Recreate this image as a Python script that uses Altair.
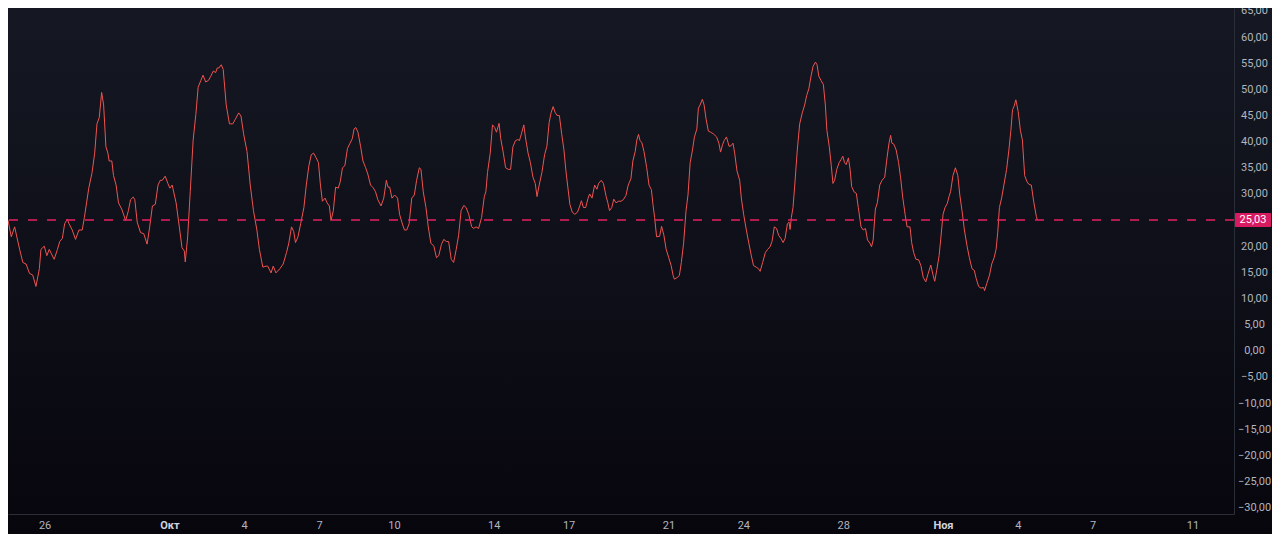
import json
import altair as alt
import pandas as pd

# Time of each reading, in hours after 2024-09-24 00:00 UTC
hours = [
    12.8, 16.0, 19.2, 24.0, 27.1, 30.2, 33.5, 36.6, 39.7, 43.0,
    44.5, 47.7, 50.2, 52.5, 57.2, 60.4, 62.6, 65.1, 67.3, 69.9,
    71.5, 74.6, 77.8, 81.0, 84.2, 86.3, 90.5, 93.7, 96.2, 98.4,
    100.6, 102.9, 104.8, 107.0, 108.9, 110.1, 112.7, 114.3, 116.8, 119.1,
    122.2, 126.0, 128.6, 130.7, 133.3, 134.8, 137.1, 140.3, 143.4, 146.6,
    149.1, 151.7, 154.5, 157.1, 159.3, 161.2, 164.0, 166.6, 168.5, 170.7,
    174.5, 177.6, 180.2, 182.4, 183.3, 185.6, 188.1, 190.9, 193.5, 195.7,
    198.3, 200.4, 203.0, 205.6, 207.8, 210.3, 212.5, 214.1, 215.8, 217.9,
    219.8, 222.7, 225.8, 229.0, 231.5, 234.7, 236.9, 239.4, 242.7, 245.8,
    248.9, 252.2, 254.6, 257.9, 261.0, 262.6, 265.8, 267.9, 270.5, 274.3,
    277.5, 280.7, 282.9, 285.5, 287.6, 289.3, 291.7, 294.3, 297.4, 299.7,
    302.2, 304.5, 306.7, 309.2, 311.4, 313.3, 315.2, 317.8, 319.7, 321.9,
    323.5, 325.7, 327.9, 330.4, 332.3, 334.5, 336.8, 339.3, 341.8, 344.0,
    345.6, 347.3, 349.4, 352.0, 354.2, 356.8, 358.9, 361.5, 364.0, 366.3,
    368.5, 371.6, 374.2, 376.7, 378.3, 379.9, 382.1, 384.6, 387.5, 389.4,
    391.6, 394.1, 396.3, 398.6, 401.1, 403.6, 405.8, 408.4, 410.0, 412.2,
    414.8, 417.0, 419.5, 422.4, 424.9, 427.1, 429.6, 431.9, 434.4, 436.6,
    439.1, 441.4, 443.9, 446.2, 448.6, 451.2, 453.4, 455.9, 458.8, 460.7,
    462.9, 465.4, 468.3, 470.9, 472.4, 474.0, 476.6, 478.8, 480.9, 482.6,
    485.1, 486.7, 489.2, 491.4, 494.0, 496.2, 498.4, 500.9, 503.2, 504.7,
    506.6, 508.9, 510.4, 513.0, 515.2, 517.7, 519.9, 521.6, 523.7, 526.3,
    528.9, 531.1, 533.3, 535.1, 537.1, 539.0, 540.9, 543.1, 545.3, 547.5,
    549.4, 551.0, 553.2, 555.5, 558.0, 560.5, 562.7, 564.3, 566.2, 568.4,
    570.7, 572.2, 574.5, 577.0, 579.2, 580.8, 583.4, 585.5, 588.1, 589.7,
    591.3, 593.5, 595.4, 597.6, 599.8, 602.4, 604.6, 607.1, 609.3, 611.9,
    613.8, 616.0, 617.6, 619.2, 620.7, 622.4, 624.5, 627.1, 629.3, 631.6,
    633.1, 634.7, 636.6, 639.5, 641.4, 643.6, 645.8, 648.3, 650.6, 652.5,
    653.7, 656.3, 658.5, 660.4, 662.6, 664.9, 666.8, 668.9, 671.1, 673.0,
    675.3, 676.8, 678.4, 680.6, 682.3, 684.2, 686.4, 688.6, 691.1, 694.3,
    696.5, 698.1, 700.0, 701.6, 703.8, 706.3, 708.2, 710.1, 711.7, 713.9,
    716.5, 718.1, 720.3, 722.9, 725.3, 727.6, 729.8, 732.4, 734.6, 736.2,
    738.6, 741.2, 743.4, 745.7, 747.6, 749.8, 752.0, 753.9, 756.1, 758.3,
    760.2, 762.4, 764.0, 765.0, 766.2, 767.8, 769.7, 771.9, 774.2, 776.7,
    779.0, 780.9, 783.0, 785.2, 787.1, 789.4, 790.9, 792.6, 794.7, 797.0,
    798.9, 800.4, 802.7, 804.6, 806.2, 807.8, 809.9, 812.2, 814.1, 815.7,
    817.3, 818.9, 821.1, 822.7, 824.2, 826.5, 828.7, 830.6, 833.2, 835.3,
    837.5, 839.4, 841.7, 843.3, 844.9, 847.0, 848.9, 851.2, 853.4, 856.0,
    858.2, 860.1, 861.7, 862.9, 864.8, 867.0, 869.3, 871.2, 873.4, 875.6,
    877.5, 880.3, 881.9, 883.8, 886.0, 888.6, 890.8, 893.1, 895.5, 897.8,
    900.3, 902.6, 904.1, 906.0, 908.3, 909.8, 912.1, 914.0, 916.2, 917.8,
    919.3, 921.6, 924.0, 926.3, 928.2, 930.4, 932.6, 935.2, 937.4, 939.9,
    942.1, 944.0, 946.3, 948.5, 951.1, 952.0, 954.2, 956.8, 958.9, 961.2,
    963.1, 964.7, 966.3, 968.4, 970.6, 973.2, 975.4, 977.3, 978.9, 980.5,
    982.1, 984.3, 986.5, 988.4, 990.6, 992.9, 994.8, 997.0, 999.2, 1001.8, 1002.7,
]

values = [
    25.0, 21.8, 23.7, 19.4, 16.9, 16.6, 14.8, 14.5, 12.3, 15.7,
    19.4, 20.0, 18.2, 19.4, 17.5, 19.4, 20.9, 21.5, 24.3, 25.2,
    24.3, 23.1, 21.3, 23.1, 23.1, 25.5, 31.1, 34.1, 37.8, 43.4,
    44.6, 49.4, 47.0, 39.0, 37.8, 36.3, 36.3, 33.5, 31.7, 28.3,
    27.1, 24.9, 26.8, 28.9, 29.4, 28.9, 24.6, 22.6, 22.4, 20.4,
    23.7, 27.7, 28.0, 31.7, 32.6, 32.6, 33.4, 32.0, 31.1, 31.7,
    28.3, 23.7, 19.7, 19.1, 17.0, 21.8, 30.4, 40.3, 45.2, 50.4,
    51.7, 52.7, 51.4, 51.7, 52.5, 53.5, 53.2, 54.1, 54.1, 54.7,
    53.8, 47.0, 43.4, 43.4, 44.3, 45.5, 44.9, 41.5, 38.1, 31.7,
    26.8, 23.1, 19.4, 16.0, 16.2, 16.2, 14.9, 16.2, 14.9, 15.7,
    16.6, 18.8, 20.6, 23.7, 22.8, 20.7, 21.8, 24.3, 27.4, 31.7,
    35.4, 37.5, 37.8, 36.9, 36.0, 31.7, 28.6, 29.2, 28.3, 27.7,
    24.9, 26.8, 31.3, 31.1, 32.3, 35.0, 35.4, 38.7, 39.7, 40.6,
    42.4, 42.7, 41.8, 39.0, 36.3, 35.0, 33.8, 31.7, 31.2, 30.4,
    28.9, 27.7, 29.2, 32.6, 31.3, 31.3, 29.2, 29.8, 29.2, 26.1,
    24.6, 23.1, 23.1, 24.3, 29.2, 29.8, 32.6, 35.0, 34.7, 30.4,
    27.4, 23.7, 20.6, 20.0, 17.8, 18.2, 20.3, 21.3, 20.9, 20.9,
    17.5, 16.9, 19.4, 22.1, 26.8, 27.8, 27.4, 26.1, 23.7, 23.4,
    23.7, 23.4, 25.5, 29.5, 30.4, 34.1, 37.8, 43.2, 42.7, 41.8,
    43.5, 40.6, 37.8, 35.0, 34.7, 34.7, 39.0, 40.2, 40.4, 40.2,
    41.5, 43.2, 40.9, 37.8, 36.0, 33.2, 32.0, 29.5, 31.7, 34.1,
    37.5, 39.1, 43.7, 45.5, 46.7, 45.6, 45.0, 45.0, 41.5, 38.4,
    34.4, 31.7, 28.0, 26.5, 26.1, 26.5, 27.7, 28.7, 27.4, 27.4,
    29.2, 30.0, 29.2, 31.7, 30.9, 32.0, 32.6, 32.0, 29.5, 28.3,
    26.8, 27.4, 29.0, 28.3, 28.6, 28.6, 28.9, 29.7, 31.7, 32.9,
    36.3, 38.1, 40.3, 41.4, 40.2, 39.8, 38.1, 35.0, 31.7, 30.8,
    28.0, 25.5, 21.8, 21.9, 23.8, 22.1, 19.4, 17.8, 16.3, 14.4,
    13.7, 14.0, 14.4, 16.9, 20.6, 26.8, 29.8, 36.0, 38.4, 40.9,
    42.4, 46.4, 47.0, 48.1, 47.0, 44.3, 42.0, 41.8, 41.5, 40.9,
    39.7, 38.0, 39.4, 40.2, 40.9, 39.1, 39.2, 39.7, 37.8, 34.4,
    32.6, 29.2, 26.1, 23.1, 20.6, 18.3, 16.3, 16.0, 15.7, 15.2,
    16.9, 18.8, 19.4, 19.9, 20.9, 23.7, 23.4, 22.1, 21.5, 20.7,
    21.5, 24.3, 24.6, 23.2, 25.5, 27.4, 32.3, 38.4, 43.4, 45.5,
    47.0, 48.8, 50.1, 52.6, 54.4, 55.2, 54.7, 52.5, 51.7, 50.9,
    47.0, 42.1, 39.0, 35.4, 32.0, 32.6, 34.7, 36.0, 36.6, 37.2,
    36.0, 35.6, 36.9, 34.7, 31.4, 30.4, 30.1, 27.4, 23.7, 23.1,
    23.4, 21.2, 20.6, 19.9, 21.2, 27.1, 28.3, 31.7, 32.6, 33.2,
    36.9, 39.7, 41.2, 39.7, 39.5, 38.4, 36.0, 33.2, 29.2, 26.1,
    23.7, 23.7, 20.7, 18.8, 17.5, 17.4, 16.3, 14.0, 13.2, 14.8,
    16.4, 14.4, 13.3, 15.4, 18.2, 21.2, 26.1, 27.4, 28.2, 29.5,
    30.4, 33.5, 35.0, 33.5, 29.8, 26.7, 23.1, 20.0, 17.8, 15.7,
    15.4, 13.8, 12.3, 12.0, 12.1, 11.5, 12.9, 14.5, 16.6, 17.8,
    19.4, 22.7, 27.4, 29.2, 31.7, 34.7, 38.4, 42.1, 46.1, 46.8,
    48.0, 45.8, 42.1, 40.3, 33.5, 32.3, 31.8, 31.7, 28.6, 25.7, 25.03,
]

level = [25.03]

# x-axis tick dates (year, month, day)
tick_dates = [
    (2024, 9, 26), (2024, 10, 1), (2024, 10, 4), (2024, 10, 7), (2024, 10, 10),
    (2024, 10, 14), (2024, 10, 17), (2024, 10, 21), (2024, 10, 24), (2024, 10, 28),
    (2024, 11, 1), (2024, 11, 4), (2024, 11, 7), (2024, 11, 11),
]
month_names = ["Янв", "Фев", "Мар", "Апр", "Май", "Июн",
               "Июл", "Авг", "Сен", "Окт", "Ноя", "Дек"]
# price-scale ticks; the one under the level badge is hidden by it
y_ticks = [v for v in range(-30, 70, 5) if abs(v - level[0]) > 3]

start = pd.Timestamp("2024-09-24 00:00:00")
times = start + pd.to_timedelta(hours, unit="h")
df = pd.DataFrame({
    "t": [ts.strftime("%Y-%m-%dT%H:%M:%SZ") for ts in times],
    "v": values,
})
level_df = pd.DataFrame({"level": level})

W, H = 1226, 506
FONT = "Roboto"
LABEL_COLOR = "#b2b5be"
AXIS_LINE = "#2a2e39"

x_scale = alt.Scale(
    type="utc",
    domain=[
        alt.DateTime(year=2024, month=9, date=24, hours=12, minutes=50, utc=True),
        alt.DateTime(year=2024, month=11, date=12, hours=15, minutes=54, utc=True),
    ],
)
y_scale = alt.Scale(domain=[-31.2, 65.55], nice=False, zero=False)

month_js = json.dumps(month_names, ensure_ascii=False)
x_axis = alt.Axis(
    values=[alt.DateTime(year=y, month=m, date=d, utc=True) for (y, m, d) in tick_dates],
    labelExpr=f"utcdate(datum.value) == 1 ? {month_js}[utcmonth(datum.value)] : '' + utcdate(datum.value)",
    labelFontWeight={"condition": {"test": "utcdate(datum.value) == 1", "value": "bold"}, "value": "normal"},
    labelColor={"condition": {"test": "utcdate(datum.value) == 1", "value": "#d1d4dc"}, "value": LABEL_COLOR},
    labelFont=FONT,
    labelFontSize=11,
    labelPadding=5,
    labelOverlap=False,
    labelFlush=False,
    ticks=False,
    tickSize=0,
    grid=False,
    domainColor=AXIS_LINE,
    title=None,
    zindex=1,
)
y_axis = alt.Axis(
    orient="right",
    values=y_ticks,
    labelExpr="replace(format(datum.value, '.2f'), '.', ',')",
    labelFont=FONT,
    labelFontSize=11,
    labelColor=LABEL_COLOR,
    labelAlign="center",
    labelBaseline="middle",
    labelPadding=20,
    labelOverlap=False,
    labelFlush=False,
    ticks=False,
    tickSize=0,
    grid=False,
    domainColor=AXIS_LINE,
    title=None,
    zindex=1,
)

background = alt.Chart(alt.Data(values=[{}])).mark_rect(
    fill=alt.Gradient(
        gradient="linear",
        stops=[
            alt.GradientStop(color="#151823", offset=0),
            alt.GradientStop(color="#07060d", offset=1),
        ],
        x1=0, x2=0, y1=0, y2=1,
    ),
    clip=False,
).encode(
    x=alt.value(0),
    x2=alt.value({"expr": "width + 38"}),
    y=alt.value(0),
    y2=alt.value({"expr": "height + 20"}),
)

line = alt.Chart(df).mark_line(color="#ef5350", strokeWidth=1).encode(
    x=alt.X("t:T", scale=x_scale, axis=x_axis),
    y=alt.Y("v:Q", scale=y_scale, axis=y_axis),
)

rule = alt.Chart(level_df).mark_rule(
    color="#e91e63", strokeWidth=1.5, strokeDash=[9, 10]
).encode(
    y=alt.Y("level:Q", scale=y_scale, axis=y_axis),
)

badge = alt.Chart(level_df).mark_rect(
    color="#d81b60", yOffset=-7, y2Offset=7, cornerRadius=1, clip=False
).encode(
    x=alt.value({"expr": "width + 1"}),
    x2=alt.value({"expr": "width + 37"}),
    y=alt.Y("level:Q", scale=y_scale, axis=y_axis),
    y2=alt.Y2("level:Q"),
)

badge_text = alt.Chart(level_df).transform_calculate(
    label="replace(format(datum.level, '.2f'), '.', ',')"
).mark_text(
    color="#ffffff", font=FONT, fontSize=11, align="center", baseline="middle", clip=False
).encode(
    x=alt.value({"expr": "width + 19"}),
    y=alt.Y("level:Q", scale=y_scale, axis=y_axis),
    text="label:N",
)

chart = alt.layer(background, line, rule, badge, badge_text).properties(
    width=W,
    height=H,
    autosize=alt.AutoSizeParams(type="none"),
    padding={"left": 0, "top": 0, "right": 38, "bottom": 20},
).configure(
    background="#0d0e16",
).configure_view(
    stroke=None,
)

chart.save("out.html", embed_options={"renderer": "svg", "actions": False})
